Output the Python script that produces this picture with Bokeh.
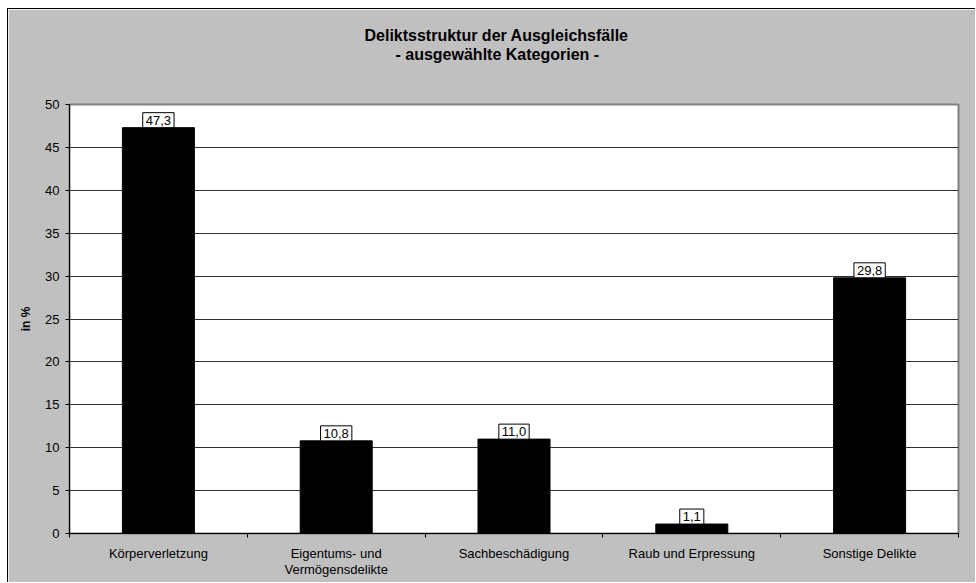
from bokeh.plotting import figure
from bokeh.models import FixedTicker, Label, Range1d, ColumnDataSource, Title
from bokeh.embed import file_html
from bokeh.resources import INLINE

categories = ["Körperverletzung", "Eigentums- und\nVermögensdelikte", "Sachbeschädigung",
              "Raub und Erpressung", "Sonstige Delikte"]
values = [47.3, 10.8, 11.0, 1.1, 29.8]
y_ticks = [0, 5, 10, 15, 20, 25, 30, 35, 40, 45, 50]
title_lines = ["Deliktsstruktur der Ausgleichsfälle", "- ausgewählte Kategorien -"]
y_label = "in %"

FONT = "Liberation Sans"
GRAY = "#c0c0c0"

xs = [i + 0.5 for i in range(len(categories))]
src = ColumnDataSource(dict(x=xs, top=values))

p = figure(width=968, height=574, output_backend="svg", toolbar_location=None,
           x_range=Range1d(0, len(categories)), y_range=Range1d(0, 50),
           min_border_left=61, min_border_right=18, min_border_top=95, min_border_bottom=50)
p.background_fill_color = "white"
p.border_fill_color = GRAY
p.outline_line_color = "#808080"
p.outline_line_width = 2

p.vbar(x="x", top="top", width=0.405, source=src, fill_color="black", line_color="black")

# x axis
p.xaxis.ticker = FixedTicker(ticks=xs, minor_ticks=list(range(len(categories) + 1)))
p.xaxis.major_label_overrides = {x: c for x, c in zip(xs, categories)}
p.xaxis.major_tick_out = 0
p.xaxis.major_tick_in = 0
p.xaxis.minor_tick_out = 4
p.xaxis.minor_tick_in = 0
p.xaxis.minor_tick_line_color = "black"
p.xaxis.axis_line_color = "black"
p.xaxis.major_label_text_font = FONT
p.xaxis.major_label_text_font_size = "13px"
p.xaxis.major_label_text_color = "black"
p.xaxis.major_label_text_line_height = 1.1
p.xaxis.major_label_standoff = 8
p.xgrid.grid_line_color = None

# y axis
p.yaxis.ticker = FixedTicker(ticks=y_ticks)
p.yaxis.minor_tick_line_color = None
p.yaxis.major_tick_out = 4
p.yaxis.major_tick_in = 0
p.yaxis.axis_line_color = "black"
p.yaxis.major_tick_line_color = "black"
p.yaxis.major_label_text_font = FONT
p.yaxis.major_label_text_font_size = "13px"
p.yaxis.major_label_text_color = "black"
p.yaxis.major_label_standoff = 6
p.yaxis.axis_label = y_label
p.yaxis.axis_label_text_font = FONT
p.yaxis.axis_label_text_font_size = "12px"
p.yaxis.axis_label_text_font_style = "bold"
p.yaxis.axis_label_text_color = "black"
p.yaxis.axis_label_standoff = 9
p.ygrid.grid_line_color = "#303030"
p.ygrid.grid_line_width = 1

# data labels
for x, v in zip(xs, values):
    p.add_layout(Label(x=x, y=v, text=f"{v:.1f}".replace(".", ","), text_align="center",
                       text_baseline="bottom", y_offset=0, text_font=FONT, text_font_size="13px",
                       text_color="black", background_fill_color="white",
                       border_line_color="black", padding=3))

# spacer closest to the plot frame (first added = closest), drawn in background colour
p.add_layout(Title(text=".", standoff=28, text_font=FONT, text_font_size="16px",
                   text_color=GRAY), "above")
# subtitle line
p.add_layout(Title(text=title_lines[1], align="left", offset=326, standoff=0,
                   text_font=FONT, text_font_size="16px", text_font_style="bold",
                   text_color="black"), "above")
# main title line (outermost)
p.title.text = title_lines[0]
p.title.align = "left"
p.title.offset = 295
p.title.standoff = 0
p.title.text_font = FONT
p.title.text_font_size = "16px"
p.title.text_font_style = "bold"
p.title.text_color = "black"

p.styles = {"border-top": "1px solid black", "border-left": "1px solid black",
            "margin-left": "7px", "margin-top": "8px"}

open("out.html", "w").write(file_html(p, INLINE))
